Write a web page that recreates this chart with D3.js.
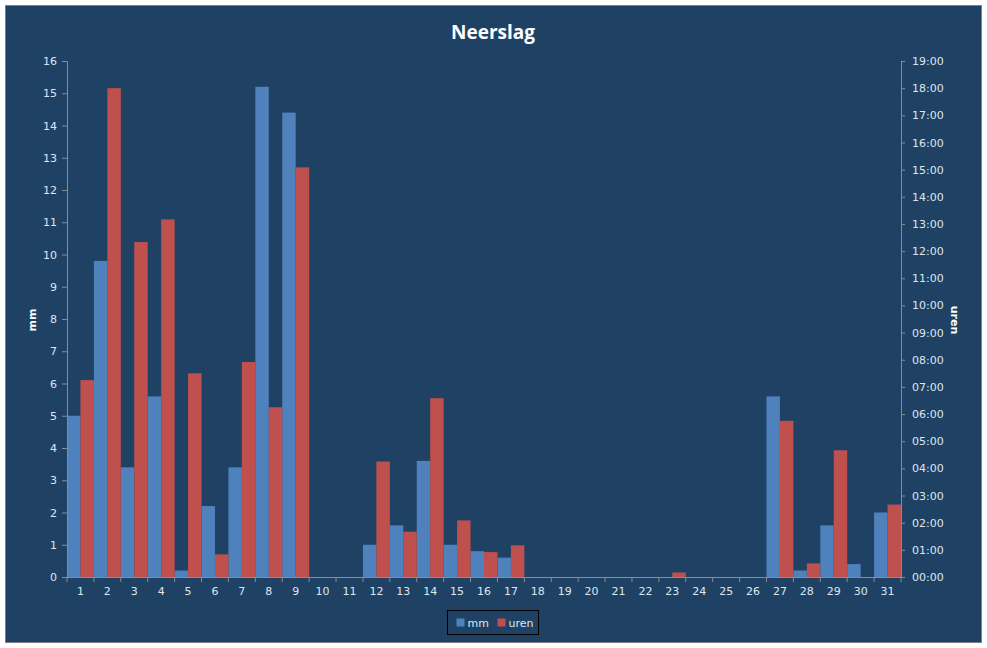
<!DOCTYPE html>
<html>
<head>
<meta charset="utf-8">
<script src="https://cdn.jsdelivr.net/npm/d3@7"></script>
<style>
  html, body { margin: 0; padding: 0; background: #ffffff; }
  svg { display: block; }
</style>
</head>
<body>
<svg id="chart" width="987" height="648"></svg>
<script>
// days of the month
const days = d3.range(1, 32).map(String);

// precipitation in mm per day
const mm = [5.0, 9.8, 3.4, 5.6, 0.2, 2.2, 3.4, 15.2, 14.4, 0, 0, 1.0, 1.6, 3.6, 1.0, 0.8, 0.6,
  0, 0, 0, 0, 0, 0, 0, 0, 0, 5.6, 0.2, 1.6, 0.4, 2.0];

// duration of precipitation per day (hh:mm)
const uren = ["07:15", "18:00", "12:20", "13:10", "07:30", "00:50", "07:55", "06:15", "15:05", "00:00",
  "00:00", "04:15", "01:40", "06:35", "02:05", "00:55", "01:10", "00:00", "00:00", "00:00",
  "00:00", "00:00", "00:10", "00:00", "00:00", "00:00", "05:45", "00:30", "04:40", "00:00", "02:40"];

const mmTicks = d3.range(0, 17);
const hourTicks = d3.range(0, 20);

const toHours = s => { const [h, m] = s.split(":").map(Number); return h + m / 60; };
const pad2 = n => String(n).padStart(2, "0");

const bg = "#1f4264";
const textCol = "#dce6f2";
const axisCol = "#8c8c8c";
const blue = "#4f81bd";
const red = "#c0504d";

const svg = d3.select("#chart");
const margin = { top: 61, right: 86, bottom: 71, left: 67 };
const width = 987 - margin.left - margin.right;
const height = 648 - margin.top - margin.bottom;

// background + frame
svg.append("rect")
  .attr("x", 5.5).attr("y", 5.5)
  .attr("width", 976).attr("height", 637)
  .attr("fill", bg)
  .attr("stroke", "#808080")
  .attr("stroke-width", 1);

// title
svg.append("text")
  .attr("x", 493).attr("y", 39)
  .attr("text-anchor", "middle")
  .attr("fill", "#ffffff")
  .style("font-family", "'Open Sans', 'Noto Sans', sans-serif")
  .style("font-weight", "bold")
  .style("font-size", "19px")
  .text("Neerslag");

const g = svg.append("g").attr("transform", `translate(${margin.left},${margin.top})`);

// Scales
const x = d3.scaleBand().domain(days).range([0, width]).paddingInner(0).paddingOuter(0);
const sub = d3.scaleBand().domain(["mm", "uren"]).range([0, x.bandwidth()]);
const yL = d3.scaleLinear().domain([0, 16]).range([height, 0]);
const yR = d3.scaleLinear().domain([0, 19]).range([height, 0]);

// bars
g.selectAll(".mm")
  .data(mm)
  .enter()
  .append("rect")
  .attr("class", "mm")
  .attr("x", (d, i) => x(days[i]) + sub("mm"))
  .attr("y", d => yL(d))
  .attr("width", sub.bandwidth())
  .attr("height", d => height - yL(d))
  .attr("fill", blue);

g.selectAll(".uren")
  .data(uren)
  .enter()
  .append("rect")
  .attr("class", "uren")
  .attr("x", (d, i) => x(days[i]) + sub("uren"))
  .attr("y", d => yR(toHours(d)))
  .attr("width", sub.bandwidth())
  .attr("height", d => height - yR(toHours(d)))
  .attr("fill", red);

// Axes
function styleAxis(sel) {
  sel.selectAll("path, line").attr("stroke", axisCol);
  sel.selectAll("text")
    .attr("fill", textCol)
    .style("font-family", "'DejaVu Sans', Verdana, sans-serif")
    .style("font-size", "11px");
}

g.append("g")
  .call(d3.axisLeft(yL).tickValues(mmTicks).tickSize(5).tickSizeOuter(0).tickPadding(5))
  .call(styleAxis);

g.append("g")
  .attr("transform", `translate(${width},0)`)
  .call(d3.axisRight(yR).tickValues(hourTicks).tickSize(4).tickSizeOuter(0).tickPadding(7)
    .tickFormat(d => pad2(d) + ":00"))
  .call(styleAxis);

const xAxis = g.append("g")
  .attr("transform", `translate(0,${height})`)
  .call(d3.axisBottom(x).tickSize(0).tickPadding(10))
  .call(styleAxis);
xAxis.select(".domain").attr("d", `M0,0.5H${width}`);

// category boundary ticks
g.append("g")
  .selectAll("line")
  .data(d3.range(0, days.length + 1))
  .enter()
  .append("line")
  .attr("x1", i => i * x.step())
  .attr("x2", i => i * x.step())
  .attr("y1", height)
  .attr("y2", height + 5)
  .attr("stroke", axisCol);

// axis titles
svg.append("text")
  .attr("transform", "translate(36,320) rotate(-90)")
  .attr("text-anchor", "middle")
  .attr("fill", "#ffffff")
  .style("font-family", "'DejaVu Sans', sans-serif")
  .style("font-weight", "bold")
  .style("font-size", "11px")
  .text("mm");

svg.append("text")
  .attr("transform", "translate(951,320) rotate(90)")
  .attr("text-anchor", "middle")
  .attr("fill", "#ffffff")
  .style("font-family", "'DejaVu Sans', sans-serif")
  .style("font-weight", "bold")
  .style("font-size", "11px")
  .text("uren");

// legend
const legend = svg.append("g").attr("transform", "translate(447.5,610.5)");
legend.append("rect")
  .attr("width", 91).attr("height", 24)
  .attr("fill", "none")
  .attr("stroke", "#000000")
  .attr("stroke-width", 1);

const items = [{ name: "mm", color: blue, x: 9 }, { name: "uren", color: red, x: 50 }];
items.forEach(it => {
  legend.append("rect")
    .attr("x", it.x).attr("y", 8)
    .attr("width", 8).attr("height", 8)
    .attr("fill", it.color);
  legend.append("text")
    .attr("x", it.x + 11).attr("y", 16)
    .attr("fill", textCol)
    .style("font-family", "'DejaVu Sans', Verdana, sans-serif")
    .style("font-size", "11px")
    .text(it.name);
});
</script>
</body>
</html>
